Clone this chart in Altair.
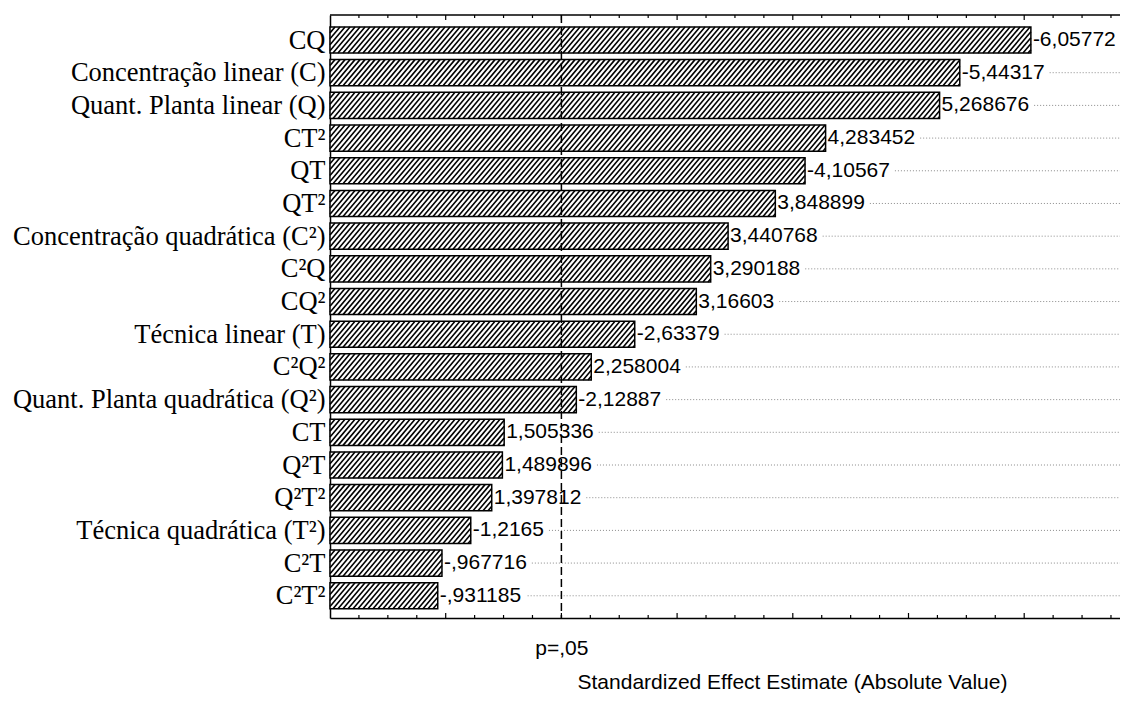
import json
import altair as alt
import pandas as pd

# ---------------- data ----------------
terms = ["CQ", "Concentração linear (C)", "Quant. Planta linear (Q)", "CT²", "QT", "QT²",
         "Concentração quadrática (C²)", "C²Q", "CQ²", "Técnica linear (T)", "C²Q²",
         "Quant. Planta quadrática (Q²)", "CT", "Q²T", "Q²T²", "Técnica quadrática (T²)",
         "C²T", "C²T²"]
effects = [-6.05772, -5.44317, 5.268676, 4.283452, -4.10567, 3.848899, 3.440768, 3.290188,
           3.16603, -2.63379, 2.258004, -2.12887, 1.505336, 1.489896, 1.397812, -1.2165,
           -0.967716, -0.931185]
effect_labels = ["-6,05772", "-5,44317", "5,268676", "4,283452", "-4,10567", "3,848899",
                 "3,440768", "3,290188", "3,16603", "-2,63379", "2,258004", "-2,12887",
                 "1,505336", "1,489896", "1,397812", "-1,2165", "-,967716", "-,931185"]
p_crit = 2.0
p_label = "p=,05"
x_title = "Standardized Effect Estimate (Absolute Value)"

# ---------------- layout / style ----------------
W, H = 790, 603
PX = 115.7                       # pixels per unit on x
XMAX = W / PX
Y_DOMAIN = [17.68, -0.765]       # bottom -> top (row 0 at top)
HALF = 0.4                       # half bar thickness in row units
SANS = "Liberation Sans"
SERIF = "Liberation Serif"
LBL_SIZE = 21

char_w = {"-": 0.333, ",": 0.278}

rows = []
for i, (t, e, lab) in enumerate(zip(terms, effects, effect_labels)):
    v = abs(e)
    tw = sum(char_w.get(c, 0.556) for c in lab) * LBL_SIZE
    rows.append({"term": t, "row": i, "v": v, "v0": 0.0, "lab": lab,
                 "y0": i - HALF, "y1": i + HALF,
                 "gstart": v + (2 + tw + 5) / PX, "gend": XMAX})
df = pd.DataFrame(rows)

# hatch lines (///) inside each bar, computed from the bar values
spacing = 5.0 / PX
dx = 22 / PX
hatch = []
for r in rows:
    v, i = r["v"], r["row"]
    bottom, top = i + HALF, i - HALF
    k = 0
    while True:
        s = -dx + k * spacing
        k += 1
        if s >= v:
            break
        x0, x1 = max(s, 0.0), min(s + dx, v)
        if x1 <= x0:
            continue
        ya = bottom - (x0 - s) / dx * (2 * HALF)
        yb = bottom - (x1 - s) / dx * (2 * HALF)
        hatch.append({"hx0": x0, "hx1": x1, "hy0": ya, "hy1": yb})
hdf = pd.DataFrame(hatch)

minor_ticks = [k * 0.25 for k in range(1, 28) if k % 4 != 0]
major_ticks = [1, 2, 3, 4, 5, 6]
mdf = pd.DataFrame({"t": minor_ticks})
Mdf = pd.DataFrame({"t": major_ticks})

xscale = alt.Scale(domain=[0, XMAX], nice=False, zero=False)
yscale = alt.Scale(domain=Y_DOMAIN, nice=False, zero=False)

label_expr = "[" + ",".join(json.dumps(t, ensure_ascii=False) for t in terms) + "][datum.value]"

x_axis = alt.Axis(values=[p_crit], labelExpr=json.dumps(p_label), ticks=False, tickSize=0,
                  grid=False, domain=True, domainColor="black", domainWidth=1.5,
                  labelFont=SANS, labelFontSize=LBL_SIZE, labelColor="black",
                  labelPadding=36, labelBaseline="alphabetic", labelFlush=False,
                  title=x_title, titleFont=SANS, titleFontSize=LBL_SIZE,
                  titleFontWeight="normal", titleColor="black", titleX=462, titleY=70,
                  titleBaseline="alphabetic", titleAlign="center")
y_axis = alt.Axis(values=list(range(len(terms))), labelExpr=label_expr, ticks=False,
                  grid=False, domain=True, domainColor="black", domainWidth=1.5,
                  labelFont=SERIF, labelFontSize=26.5, labelColor="black", labelPadding=5,
                  labelLimit=500, labelOverlap=False, labelFlush=False, title=None)


def X(field):
    return alt.X(field, type="quantitative", scale=xscale, axis=x_axis)


def Y(field):
    return alt.Y(field, type="quantitative", scale=yscale, axis=y_axis)


base = alt.Chart(df)

grid = base.mark_rule(color="#8a8a8a", strokeDash=[1, 2], strokeWidth=1).encode(
    x=X("gstart"), x2="gend:Q", y=Y("row"),
)

bars_fill = base.mark_rect(fill="white").encode(
    x=X("v0"), x2="v:Q", y=Y("y0"), y2="y1:Q",
)

hatch_layer = alt.Chart(hdf).mark_rule(color="black", strokeWidth=1.6).encode(
    x=X("hx0"), x2="hx1:Q", y=Y("hy0"), y2="hy1:Q",
)

bars_outline = base.mark_rect(fillOpacity=0, stroke="black", strokeWidth=1.5).encode(
    x=X("v0"), x2="v:Q", y=Y("y0"), y2="y1:Q",
)

texts = base.mark_text(align="left", baseline="middle", dx=2, font=SANS,
                       fontSize=LBL_SIZE, color="black").encode(
    x=X("v"), y=Y("row"), text="lab:N",
)

pline = alt.Chart(pd.DataFrame({"p": [p_crit]})).mark_rule(
    color="black", strokeDash=[8, 4], strokeWidth=1.5).encode(
    x=X("p"), y=alt.value(0), y2=alt.value(H),
)

top_border = alt.Chart(pd.DataFrame({"a": [0.0], "b": [XMAX]})).mark_rule(
    color="black", strokeWidth=1.5).encode(
    x=X("a"), x2="b:Q", y=alt.value(0),
)


def tick_layer(d, y, y2):
    return alt.Chart(d).mark_rule(color="black", strokeWidth=1.2).encode(
        x=X("t"), y=alt.value(y), y2=alt.value(y2))


ticks = [tick_layer(mdf, H, H - 3), tick_layer(Mdf, H, H - 5),
         tick_layer(mdf, 0, 3), tick_layer(Mdf, 0, 5)]

chart = alt.layer(grid, bars_fill, hatch_layer, bars_outline, texts, pline, top_border,
                  *ticks).properties(
    width=W, height=H,
    autosize=alt.AutoSizeParams(type="none"),
    padding={"left": 322, "top": 7, "right": 0, "bottom": 76},
    background="white",
).configure_view(stroke=None)

chart.save("out.html", embed_options={"renderer": "svg", "actions": False})
